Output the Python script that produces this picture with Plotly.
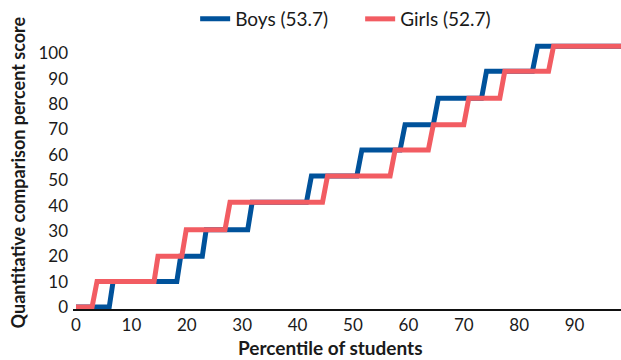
import plotly.graph_objects as go

# Step levels (percent score)
levels = [0, 10.1, 20.0, 30.5, 41.3, 51.7, 61.9, 71.9, 82.3, 93.0, 102.8]

# Percentile where each rise to the next level starts / ends
boys_rise_start = [6.0, 18.2, 22.8, 31.0, 41.6, 50.7, 58.5, 64.5, 73.2, 82.4]
boys_rise_end = [6.7, 18.9, 23.5, 31.8, 42.5, 51.6, 59.4, 65.4, 74.1, 83.3]
girls_rise_start = [2.9, 14.1, 19.1, 26.9, 44.5, 56.7, 63.6, 70.0, 76.5, 85.3]
girls_rise_end = [3.8, 14.8, 19.9, 27.8, 45.4, 57.6, 64.5, 70.9, 77.4, 86.2]
x_first, x_last = 0, 100

series_names = ["Boys (53.7)", "Girls (52.7)"]
x_ticks = [0, 10, 20, 30, 40, 50, 60, 70, 80, 90]
y_ticks = [0, 10, 20, 30, 40, 50, 60, 70, 80, 90, 100]


def step_path(starts, ends):
    xs, ys = [x_first], [levels[0]]
    for i, (a, b) in enumerate(zip(starts, ends)):
        xs += [a, b]
        ys += [levels[i], levels[i + 1]]
    xs.append(x_last)
    ys.append(levels[-1])
    return xs, ys


BLUE = "#00529b"
RED = "#f25c62"
FONT = "Lato"
TXT = "#1a1a1a"

bx, by = step_path(boys_rise_start, boys_rise_end)
gx, gy = step_path(girls_rise_start, girls_rise_end)

fig = go.Figure()
fig.add_trace(go.Scatter(x=bx, y=by, mode="lines", name=series_names[0],
                         line=dict(color=BLUE, width=5)))
fig.add_trace(go.Scatter(x=gx, y=gy, mode="lines", name=series_names[1],
                         line=dict(color=RED, width=5)))

fig.update_layout(
    width=621, height=360,
    margin=dict(l=73, r=0, t=37, b=51),
    paper_bgcolor="white", plot_bgcolor="white",
    font=dict(family=FONT, color=TXT, size=17),
    showlegend=True,
    legend=dict(orientation="h", x=0.524, xanchor="center", y=1.07, yanchor="middle",
                font=dict(size=19, family=FONT, color=TXT), bgcolor="rgba(0,0,0,0)",
                entrywidth=120, entrywidthmode="pixels"),
    xaxis=dict(range=[-0.54, 98.38], tickvals=x_ticks, showgrid=False, zeroline=False,
               showline=True, linecolor="#111111", linewidth=2, ticks="",
               tickfont=dict(size=17, family=FONT, color=TXT)),
    yaxis=dict(range=[-0.79, 106.1], tickvals=y_ticks, showgrid=False, zeroline=False,
               showline=False, ticks="", ticklabelstandoff=4,
               tickfont=dict(size=17, family=FONT, color=TXT)),
    annotations=[
        dict(text="<b>Percentile of students</b>", xref="paper", yref="paper",
             x=0.469, y=-0.143, xanchor="center", yanchor="middle", showarrow=False,
             font=dict(size=19, family=FONT, color=TXT)),
        dict(text="<b>Quantitative comparison percent score</b>", xref="paper", yref="paper",
             x=-0.1004, y=0.504, xanchor="center", yanchor="middle", textangle=-90,
             showarrow=False, font=dict(size=18, family=FONT, color=TXT)),
    ],
)

fig.write_html("out.html", config={"displayModeBar": False},
               post_script="document.body.style.margin='0';")
